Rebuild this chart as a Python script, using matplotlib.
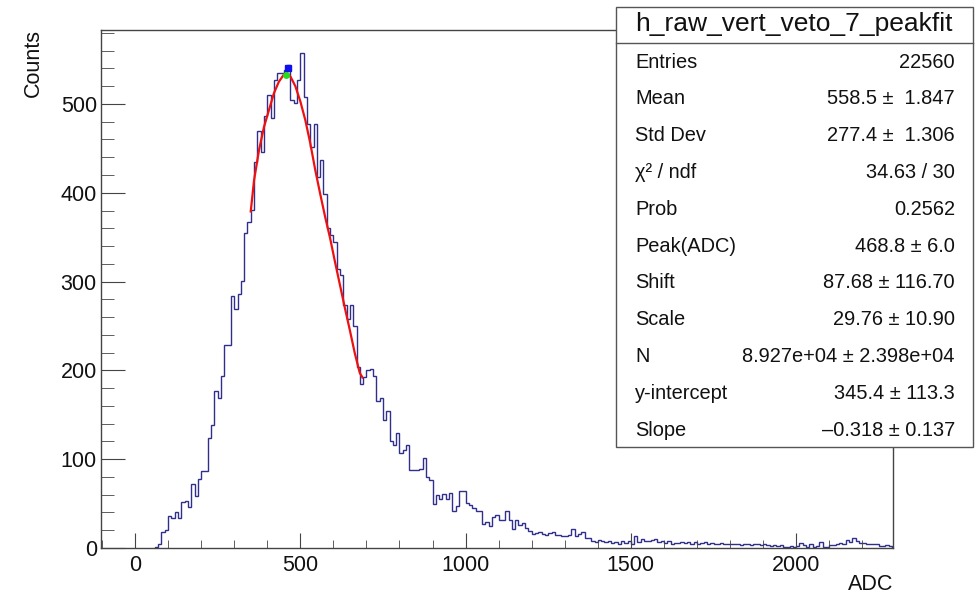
import numpy as np
import matplotlib

matplotlib.use("Agg")
import matplotlib.pyplot as plt
from matplotlib.patches import Rectangle
from matplotlib.ticker import MultipleLocator

plt.rcParams["font.family"] = ["Liberation Sans", "DejaVu Sans"]

W, H = 977, 597

# histogram h_raw_vert_veto_7, 10 ADC wide bins, first non-empty bin at 60
bin_width = 10
first_bin = 60
counts = [
    1, 5, 18, 20, 36, 34, 40, 34, 52, 53,
    46, 72, 59, 78, 87, 87, 124, 138, 177, 169,
    194, 229, 229, 284, 269, 286, 301, 355, 367, 381,
    435, 470, 446, 486, 510, 484, 527, 535, 535, 538,
    544, 505, 501, 527, 557, 508, 478, 452, 478, 418,
    437, 399, 360, 352, 345, 314, 307, 274, 258, 274,
    250, 204, 185, 193, 201, 202, 194, 165, 169, 144,
    154, 120, 116, 129, 107, 110, 116, 88, 88, 88,
    89, 101, 80, 77, 50, 60, 55, 61, 55, 62,
    42, 47, 64, 64, 51, 48, 45, 42, 42, 27,
    29, 25, 35, 37, 32, 32, 42, 31, 21, 31,
    26, 28, 22, 19, 16, 17, 18, 16, 15, 17,
    18, 15, 15, 13, 13, 15, 21, 13, 16, 18,
    11, 11, 8, 7, 9, 8, 7, 8, 6, 7,
    5, 8, 6, 8, 5, 13, 7, 10, 8, 8,
    9, 10, 7, 8, 6, 8, 5, 6, 6, 7,
    6, 7, 5, 7, 5, 6, 7, 5, 6, 5,
    4, 6, 5, 4, 5, 4, 5, 3, 5, 4,
    3, 4, 5, 3, 4, 3, 2, 3, 2, 3,
    1, 1, 2, 1, 2, 6, 3, 1, 5, 1,
    2, 7, 1, 1, 3, 3, 5, 6, 5, 9,
    7, 11, 8, 6, 6, 5, 5, 4, 4, 2,
    2, 3, 2,
]

# peak fit (red curve)
fit_adc = [350, 360, 375, 390, 405, 420, 435, 450, 460, 470, 485, 500, 515,
           530, 545, 560, 575, 590, 605, 620, 635, 650, 665, 680, 688]
fit_counts = [379, 414, 448, 474, 493, 512, 525, 533, 535, 531, 520, 503, 482,
              456, 426, 399, 373, 349, 322, 296, 270, 245, 219, 197, 192]
max_bin_marker = (463, 541)
fit_peak_marker = (458, 533)

stat_title = "h_raw_vert_veto_7_peakfit"
stat_labels = ["Entries", "Mean", "Std Dev", "\u03c7\u00b2 / ndf", "Prob",
               "Peak(ADC)", "Shift", "Scale", "N", "y-intercept", "Slope"]
stat_values = ["22560", "558.5 \u00b1  1.847", "277.4 \u00b1  1.306",
               "34.63 / 30", "0.2562", "468.8 \u00b1 6.0",
               "87.68 \u00b1 116.70", "29.76 \u00b1 10.90",
               "8.927e+04 \u00b1 2.398e+04", "345.4 \u00b1 113.3",
               "\u20130.318 \u00b1 0.137"]

fig = plt.figure(figsize=(W / 100, H / 100), dpi=100)
fig.patch.set_facecolor("white")


def fx(x):
    return x / W


def fy(y):
    return 1 - y / H


# frame: 101..893 px wide, 30..548 px tall
ax = fig.add_axes([fx(101), fy(548), (893 - 101) / W, (548 - 30) / H])
edges = first_bin + bin_width * np.arange(len(counts) + 1)
ax.stairs(counts, edges, color="#30308a", lw=1.0)
ax.plot(fit_adc, fit_counts, color="#ee1111", lw=1.6)
ax.plot(*max_bin_marker, marker="s", ms=4, color="#1010ee", ls="none")
ax.plot(*fit_peak_marker, marker="o", ms=4, color="#22dd22", ls="none")

ax.set_xlim(-103, 2293)
ax.set_ylim(0, 583.3)
ax.xaxis.set_major_locator(MultipleLocator(500))
ax.xaxis.set_minor_locator(MultipleLocator(100))
ax.yaxis.set_major_locator(MultipleLocator(100))
ax.yaxis.set_minor_locator(MultipleLocator(20))
ax.tick_params(axis="both", which="both", direction="in", color="#444444",
               top=False, right=False, labelsize=15.5, labelcolor="#111111")
ax.tick_params(axis="x", which="major", length=11, pad=5)
ax.tick_params(axis="x", which="minor", length=6)
ax.tick_params(axis="y", which="major", length=17, pad=3)
ax.tick_params(axis="y", which="minor", length=9)
for sp in ax.spines.values():
    sp.set_color("#444444")
    sp.set_linewidth(1.0)

fig.text(fx(33), fy(29), "Counts", rotation=90, ha="center", va="top",
         fontsize=15.5, color="#111111")
fig.text(fx(893), fy(585), "ADC", ha="right", va="center",
         fontsize=15.5, color="#111111")

# statistics box
box = Rectangle((fx(616), fy(447)), (973 - 616) / W, (447 - 7) / H,
                transform=fig.transFigure, facecolor="white",
                edgecolor="#555555", lw=1.0, zorder=5)
fig.add_artist(box)
fig.add_artist(plt.Line2D([fx(616), fx(973)], [fy(43), fy(43)],
                          transform=fig.transFigure, color="#555555",
                          lw=1.0, zorder=6))
fig.text(fx(794), fy(24), stat_title, ha="center", va="center",
         fontsize=19, color="#111111", zorder=7)
for i, (lab, val) in enumerate(zip(stat_labels, stat_values)):
    y = 62 + i * 36.8
    fig.text(fx(635), fy(y), lab, ha="left", va="center", fontsize=14.4,
             color="#111111", zorder=7)
    fig.text(fx(955), fy(y), val, ha="right", va="center", fontsize=14.4,
             color="#111111", zorder=7)

fig.savefig("out.png", dpi=100)
